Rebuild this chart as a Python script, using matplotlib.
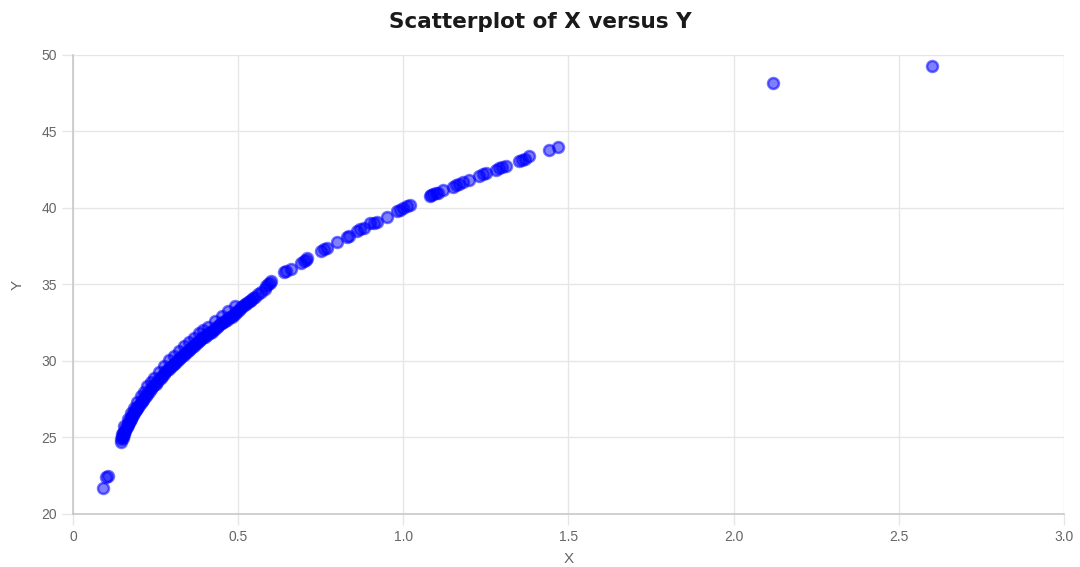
import numpy as np
import matplotlib.pyplot as plt

plt.rcParams['font.family'] = ['Liberation Sans', 'DejaVu Sans']

# values
x_vals = [0.09, 0.10, 0.105,
          0.145, 0.146, 0.147, 0.148, 0.15, 0.151, 0.152, 0.153, 0.155, 0.157,
          0.16, 0.162, 0.165, 0.167, 0.17, 0.172, 0.175, 0.177, 0.18, 0.182,
          0.185, 0.187, 0.19, 0.192, 0.195, 0.197, 0.20, 0.205, 0.21, 0.212,
          0.215, 0.22, 0.225, 0.23, 0.235, 0.24, 0.245, 0.25, 0.255, 0.26,
          0.265, 0.27, 0.275, 0.28, 0.285, 0.29, 0.295, 0.30, 0.305, 0.31,
          0.315, 0.32, 0.325, 0.33, 0.335, 0.34, 0.345, 0.35, 0.355, 0.36,
          0.365, 0.37, 0.375, 0.38, 0.385, 0.39, 0.395, 0.40, 0.405, 0.41,
          0.415, 0.42, 0.425, 0.43, 0.435, 0.44, 0.445, 0.45, 0.455, 0.46,
          0.465, 0.47, 0.475, 0.48, 0.485, 0.49, 0.495, 0.50, 0.505, 0.51,
          0.515, 0.52, 0.525, 0.53, 0.535, 0.54, 0.545, 0.55, 0.56, 0.57,
          0.58, 0.585, 0.59, 0.595, 0.60,
          # upper edge of the dense band
          0.155, 0.165, 0.175, 0.185, 0.195, 0.205, 0.215, 0.225, 0.235,
          0.245, 0.26, 0.275, 0.29, 0.305, 0.32, 0.335, 0.35, 0.365, 0.38,
          0.395, 0.41, 0.43, 0.45, 0.47, 0.49,
          0.64, 0.645, 0.66, 0.69, 0.70, 0.705, 0.71, 0.75, 0.76, 0.77,
          0.80, 0.83, 0.835, 0.86, 0.87, 0.88, 0.90, 0.91, 0.92, 0.95,
          0.98, 0.99, 1.00, 1.01, 1.02,
          1.08, 1.085, 1.09, 1.10, 1.105, 1.12, 1.15, 1.16, 1.17, 1.18,
          1.20, 1.23, 1.24, 1.25, 1.28, 1.29, 1.30, 1.31, 1.35, 1.36,
          1.37, 1.38, 1.44, 1.47,
          2.12, 2.60]
y_vals = [21.7, 22.45, 22.5,
          24.7, 24.9, 25.0, 25.2, 25.1, 24.95, 25.3, 25.2, 25.35, 25.45,
          25.6, 25.7, 25.8, 25.9, 26.0, 26.1, 26.2, 26.3, 26.4, 26.5,
          26.6, 26.7, 26.8, 26.85, 26.95, 27.0, 27.1, 27.25, 27.4, 27.45,
          27.55, 27.7, 27.85, 28.0, 28.15, 28.3, 28.4, 28.5, 28.65, 28.8,
          28.9, 29.0, 29.15, 29.3, 29.4, 29.5, 29.6, 29.7, 29.8, 29.9,
          30.0, 30.1, 30.2, 30.3, 30.4, 30.5, 30.6, 30.7, 30.8, 30.9,
          31.0, 31.1, 31.2, 31.3, 31.4, 31.5, 31.55, 31.6, 31.7, 31.8,
          31.85, 31.9, 32.0, 32.1, 32.2, 32.3, 32.4, 32.5, 32.55, 32.6,
          32.7, 32.8, 32.85, 32.9, 33.0, 33.1, 33.2, 33.3, 33.4, 33.5,
          33.6, 33.7, 33.75, 33.85, 33.9, 34.0, 34.1, 34.2, 34.35, 34.5,
          34.7, 34.9, 35.0, 35.1, 35.2,
          25.75, 26.2, 26.6, 26.95, 27.35, 27.7, 28.0, 28.35, 28.6,
          28.9, 29.3, 29.7, 30.05, 30.35, 30.65, 30.95, 31.25, 31.5, 31.8,
          32.0, 32.25, 32.6, 32.95, 33.3, 33.6,
          35.8, 35.9, 36.0, 36.4, 36.55, 36.6, 36.7, 37.2, 37.3, 37.4,
          37.8, 38.1, 38.15, 38.5, 38.6, 38.7, 39.0, 39.05, 39.1, 39.4,
          39.8, 39.9, 40.0, 40.1, 40.2,
          40.8, 40.85, 40.9, 40.95, 41.0, 41.15, 41.4, 41.5, 41.6, 41.7,
          41.8, 42.1, 42.2, 42.3, 42.5, 42.6, 42.7, 42.75, 43.1, 43.15,
          43.2, 43.4, 43.8, 44.0,
          48.2, 49.3]

x_ticks = [0, 0.5, 1.0, 1.5, 2.0, 2.5, 3.0]
x_tick_labels = ['0', '0.5', '1.0', '1.5', '2.0', '2.5', '3.0']
y_ticks = [20, 25, 30, 35, 40, 45, 50]

fig = plt.figure(figsize=(10.8, 5.67), dpi=100)
ax = fig.add_axes([0.0676, 0.0935, 0.9174, 0.8095])

ax.scatter(x_vals, y_vals, s=62, facecolor=(0, 0, 1, 0.5),
           edgecolor=(0, 0, 1, 0.55), linewidth=1.8, zorder=3)

ax.set_xlim(0, 3)
ax.set_ylim(20, 50)
ax.set_xticks(x_ticks)
ax.set_xticklabels(x_tick_labels)
ax.set_yticks(y_ticks)

ax.grid(True, color='#e6e6e6', linewidth=1)
ax.set_axisbelow(True)
for side in ['top', 'right']:
    ax.spines[side].set_visible(False)
for side in ['left', 'bottom']:
    ax.spines[side].set_color('#c8c8c8')
    ax.spines[side].set_linewidth(1.2)

ax.tick_params(axis='both', colors='#e6e6e6', length=8, width=1,
               labelcolor='#666666', labelsize=10)

ax.set_xlabel('X', color='#666666', fontsize=11, labelpad=6)
ax.set_ylabel('Y', color='#666666', fontsize=11, labelpad=12)
fig.suptitle('Scatterplot of X versus Y', fontsize=15.5, fontweight='bold',
             color='#1a1a1a', y=0.978, family=['DejaVu Sans'])

fig.savefig('out.png', dpi=100)
